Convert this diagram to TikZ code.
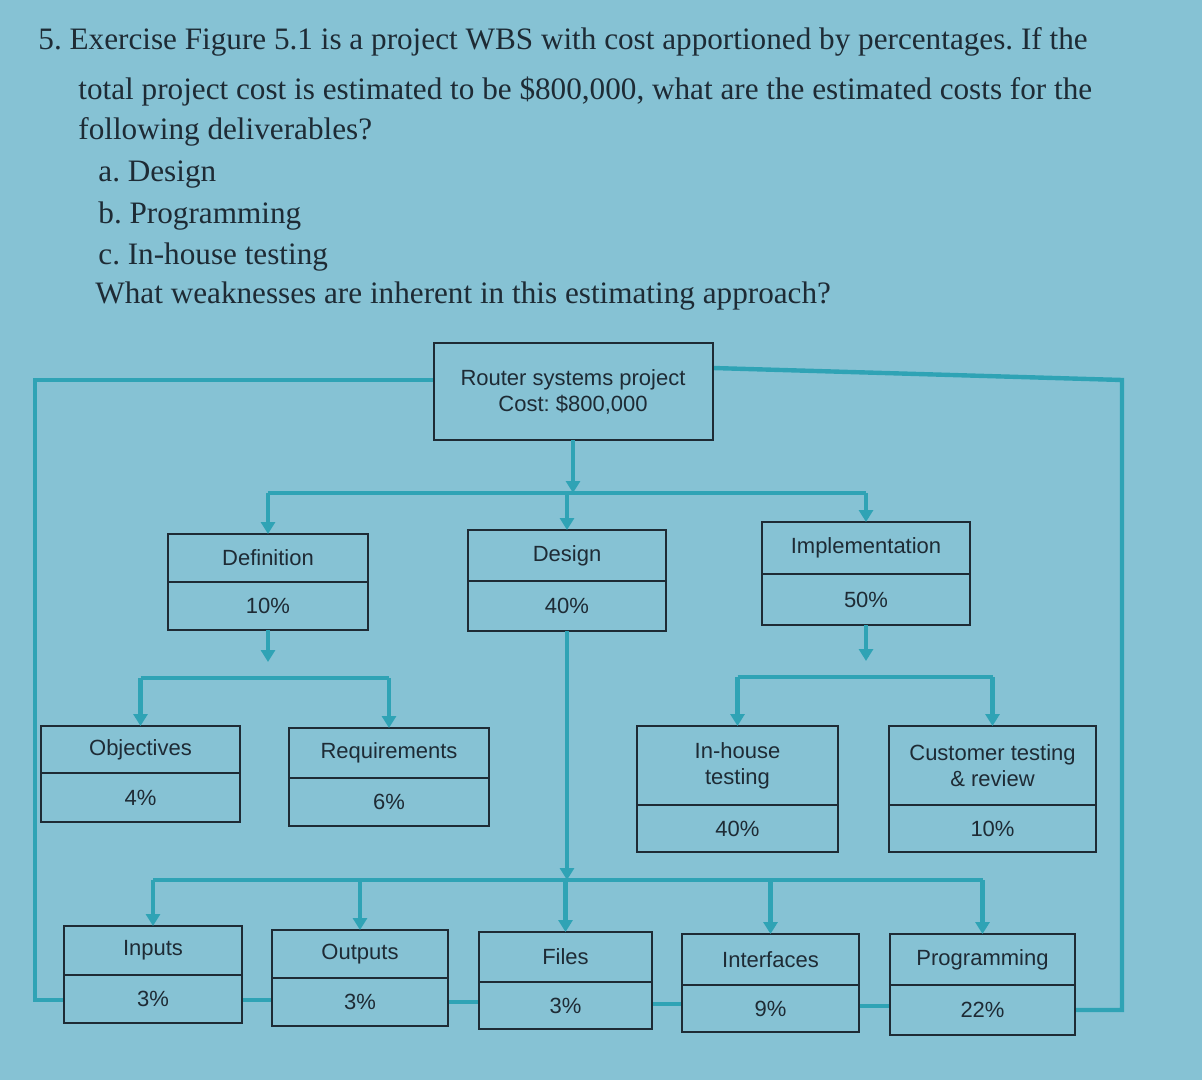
\documentclass[tikz,border=0pt]{standalone}
\usepackage{fontspec}
\setmainfont{Liberation Serif}
\newfontfamily\boxfont{Liberation Sans}
\usetikzlibrary{arrows.meta}
\definecolor{bg}{HTML}{86C2D4}
\definecolor{ln}{HTML}{2FA3B5}
\definecolor{ink}{HTML}{1E2B35}
\frenchspacing
\tikzset{x=0.5pt,y=-0.5pt,
 conn/.style={ln,line width=2.2pt},
 arr/.style={conn,-{Triangle[width=7pt,length=6pt]}},
 txt/.style={anchor=west,inner sep=0,font=\fontsize{15.6}{17}\selectfont,text=ink},
 bt/.style={inner sep=0,font=\boxfont\fontsize{11}{13}\selectfont,text=ink,align=center},
 bx/.style={draw=ink,line width=1.2pt}}
\newcommand{\wbs}[8]{% name x1 y1 x2 y2 ydiv top bottom
 \draw[bx] (#2,#3) rectangle (#4,#5);
 \draw[ink,line width=0.8pt] (#2,#6) -- (#4,#6);
 \coordinate (#1-t) at ({(#2+#4)/2},#3);
 \coordinate (#1-b) at ({(#2+#4)/2},#5);
 \node[bt] (#1-a) at ({(#2+#4)/2},{(#3+#6)/2}) {#7};
 \node[bt] (#1-p) at ({(#2+#4)/2},{(#6+#5)/2}) {#8};}
\begin{document}
\begin{tikzpicture}
\fill[bg] (0,0) rectangle (1202,1080);
\useasboundingbox (0,0) rectangle (1202,1080);
\node[txt] (l1) at (38,42) {5. Exercise Figure 5.1 is a project WBS with cost apportioned by percentages. If the};
\node[txt] (l2) at (78,92) {total project cost is estimated to be \$800,000, what are the estimated costs for the};
\node[txt] (l3) at (78,132) {following deliverables?};
\node[txt] (l4) at (98,175) {a. Design};
\node[txt] (l5) at (98,216) {b. Programming};
\node[txt] (l6) at (98,257) {c. In-house testing};
\node[txt] (l7) at (95,296) {What weaknesses are inherent in this estimating approach?};
% frame lines
\draw[conn] (434,380) -- (35,380) -- (35,1000) -- (64,1000);
\draw[conn] (713,368) -- (1122,380) -- (1122,1010) -- (1075,1010);
\draw[conn] (242,1000) -- (272,1000);
\draw[conn] (448,1002) -- (479,1002);
\draw[conn] (652,1004) -- (682,1004);
\draw[conn] (859,1006) -- (890,1006);
% boxes
\draw[bx] (434,343) rectangle (713,440);
\node[bt] (root) at (573,392) {Router systems project\\Cost: \$800,000};
\coordinate (root-b) at (573,440);
\wbs{def}{168}{534}{368}{630}{582}{Definition}{10\%}
\wbs{des}{468}{530}{666}{631}{581}{Design}{40\%}
\wbs{imp}{762}{522}{970}{625}{574}{Implementation}{50\%}
\wbs{obj}{41}{726}{240}{822}{773}{Objectives}{4\%}
\wbs{req}{289}{728}{489}{826}{778}{Requirements}{6\%}
\wbs{inh}{637}{726}{838}{852}{805}{In-house\\testing}{40\%}
\wbs{cus}{889}{726}{1096}{852}{805}{Customer testing\\\& review}{10\%}
\wbs{inp}{64}{926}{242}{1023}{975}{Inputs}{3\%}
\wbs{out}{272}{930}{448}{1026}{978}{Outputs}{3\%}
\wbs{fil}{479}{932}{652}{1029}{982}{Files}{3\%}
\wbs{int}{682}{934}{859}{1032}{985}{Interfaces}{9\%}
\wbs{pro}{890}{934}{1075}{1035}{985}{Programming}{22\%}
% level 1
\coordinate (b1) at (573,493);
\draw[arr] (root-b) -- (b1);
\draw[conn] (b1 -| def-t) -- (b1 -| imp-t);
\draw[arr] (b1 -| def-t) -- (def-t);
\draw[arr] (b1 -| des-t) -- (des-t);
\draw[arr] (b1 -| imp-t) -- (imp-t);
% definition
\coordinate (b2) at (268,678);
\draw[arr] (def-b) -- ([yshift=8pt]b2);
\draw[conn] (b2 -| obj-t) -- (b2 -| req-t);
\draw[arr] (b2 -| obj-t) -- (obj-t);
\draw[arr] (b2 -| req-t) -- (req-t);
% implementation
\coordinate (b3) at (866,677);
\draw[arr] (imp-b) -- ([yshift=8pt]b3);
\draw[conn] (b3 -| inh-t) -- (b3 -| cus-t);
\draw[arr] (b3 -| inh-t) -- (inh-t);
\draw[arr] (b3 -| cus-t) -- (cus-t);
% design
\coordinate (b4) at (567,880);
\draw[arr] (des-b) -- (b4);
\draw[conn] (b4 -| inp-t) -- (b4 -| pro-t);
\draw[arr] (b4 -| inp-t) -- (inp-t);
\draw[arr] (b4 -| out-t) -- (out-t);
\draw[arr] (b4 -| fil-t) -- (fil-t);
\draw[arr] (b4 -| int-t) -- (int-t);
\draw[arr] (b4 -| pro-t) -- (pro-t);
\end{tikzpicture}
\end{document}
